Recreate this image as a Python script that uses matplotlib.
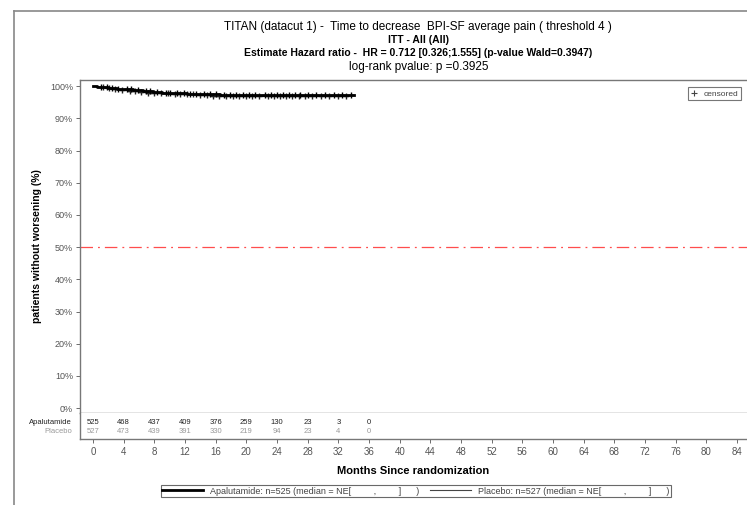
import numpy as np
import matplotlib.pyplot as plt
from matplotlib.lines import Line2D

plt.rcParams['font.family'] = ['Liberation Sans', 'DejaVu Sans']

# Kaplan-Meier steps (months, % without worsening)
apal_times = [0, 0.5, 1.2, 2.0, 3.1, 4.0, 5.2, 6.5, 7.8, 9.0, 10.5, 12.3, 14.0, 16.5, 19.0, 22.0]
apal_surv = [100, 99.8, 99.6, 99.4, 99.2, 99.0, 98.7, 98.4, 98.2, 98.0, 97.8, 97.6, 97.4, 97.3, 97.2, 97.1]
apal_end = 34.0
plac_times = [0, 0.7, 1.5, 2.4, 3.5, 4.6, 5.8, 7.0, 8.4, 10.0, 11.6, 13.5, 15.5, 18.0, 21.0]
plac_surv = [100, 99.8, 99.5, 99.2, 98.9, 98.6, 98.3, 98.0, 97.8, 97.6, 97.4, 97.2, 97.0, 96.9, 96.8]
plac_end = 33.2

apal_cens = [1.0, 1.8, 2.5, 3.3, 4.4, 5.0, 5.8, 6.9, 7.4, 8.3, 9.5, 10.1, 11.0, 11.8, 12.6,
             13.4, 14.5, 15.2, 16.0, 17.1, 17.8, 18.6, 19.5, 20.3, 21.1, 22.4, 23.2, 24.0,
             24.8, 25.5, 26.3, 27.0, 28.0, 29.1, 30.2, 31.4, 32.5, 33.6]
plac_cens = [1.3, 2.1, 2.9, 3.8, 4.8, 5.5, 6.3, 7.2, 8.0, 8.9, 9.8, 10.7, 11.4, 12.2, 13.0,
             13.9, 14.8, 15.7, 16.4, 17.4, 18.3, 19.1, 19.9, 20.7, 21.6, 22.8, 23.6, 24.4,
             25.2, 26.0, 26.8, 27.6, 28.6, 29.7, 30.8, 32.0, 33.0]

# numbers at risk
risk_months = [0, 4, 8, 12, 16, 20, 24, 28, 32, 36]
apal_risk = [525, 468, 437, 409, 376, 259, 130, 23, 3, 0]
plac_risk = [527, 473, 439, 391, 330, 219, 94, 23, 4, 0]

xticks = list(range(0, 85, 4))
yticks = list(range(0, 101, 10))

fig = plt.figure(figsize=(7.47, 5.05), dpi=100)
W, H = 747, 505


def fx(px):
    return px / W


def fy(py):
    return 1 - py / H


ax = fig.add_axes([fx(80), fy(413), 1 - fx(80), fy(80) - fy(413)])
axr = fig.add_axes([fx(80), fy(439), 1 - fx(80), fy(413) - fy(439)])

xmin, xmax = -1.7, 85.3


def km_value(times, surv, t):
    i = np.searchsorted(times, t, side='right') - 1
    return surv[i]


def draw_arm(times, surv, end, cens, lw, color):
    tt = list(times) + [end]
    ss = list(surv) + [surv[-1]]
    ax.step(tt, ss, where='post', color=color, lw=lw)
    cy = [km_value(times, surv, c) for c in cens]
    ax.plot(cens, cy, ls='none', marker='+', ms=5, mew=1.0, color=color)


draw_arm(plac_times, plac_surv, plac_end, plac_cens, 0.9, '#222222')
draw_arm(apal_times, apal_surv, apal_end, apal_cens, 2.0, 'black')

ax.axhline(50, color='#ff4d4d', lw=0.9, ls=(0, (10, 4, 1.5, 4)))

ax.set_xlim(xmin, xmax)
ax.set_ylim(-1.5, 101.9)
ax.set_xticks([])
ax.set_yticks(yticks)
ax.set_yticklabels([f'{v}%' for v in yticks], fontsize=6.5, color='#555555')
ax.tick_params(axis='y', length=3, width=0.6, color='#555555', pad=2)
for s in ax.spines.values():
    s.set_color('#777777')
    s.set_linewidth(1.0)
ax.spines['right'].set_visible(False)
ax.set_ylabel('patients without worsening (%)', fontsize=7.5, fontweight='bold', labelpad=6)

cens_handle = Line2D([], [], ls='none', marker='+', ms=5, mew=0.8, color='#444444')
leg = ax.legend([cens_handle], ['censored'], loc='upper right', bbox_to_anchor=(0.997, 0.99),
                fontsize=6, frameon=True, fancybox=False, edgecolor='#555555',
                handlelength=1.0, handletextpad=0.6, borderpad=0.3, labelcolor='#444444')
leg.get_frame().set_linewidth(0.8)

# risk table
axr.set_xlim(xmin, xmax)
axr.set_ylim(0, 1)
for m, a, p in zip(risk_months, apal_risk, plac_risk):
    axr.text(m, 0.65, str(a), ha='center', va='center', fontsize=5.5, color='#222222')
    axr.text(m, 0.28, str(p), ha='center', va='center', fontsize=5.5, color='#999999')
axr.text(-0.012, 0.65, 'Apalutamide', transform=axr.transAxes, ha='right', va='center',
         fontsize=5.5, color='#222222')
axr.text(-0.012, 0.28, 'Placebo', transform=axr.transAxes, ha='right', va='center',
         fontsize=5.5, color='#999999')
axr.set_yticks([])
axr.set_xticks(xticks)
axr.set_xticklabels([str(v) for v in xticks], fontsize=7, color='#555555')
axr.tick_params(axis='x', length=3, width=0.6, color='#555555', pad=3)
axr.spines['top'].set_visible(False)
axr.spines['right'].set_visible(False)
for s in ['left', 'bottom']:
    axr.spines[s].set_color('#777777')
    axr.spines[s].set_linewidth(1.0)
axr.set_xlabel('Months Since randomization', fontsize=8, fontweight='bold', labelpad=6)

# titles
cx = 0.56
fig.text(cx, fy(27), 'TITAN (datacut 1) -  Time to decrease  BPI-SF average pain ( threshold 4 )',
         ha='center', va='center', fontsize=8.5)
fig.text(cx, fy(40), 'ITT - All (All)', ha='center', va='center', fontsize=7.5, fontweight='bold')
fig.text(cx, fy(53), 'Estimate Hazard ratio -  HR = 0.712 [0.326;1.555] (p-value Wald=0.3947)',
         ha='center', va='center', fontsize=7.5, fontweight='bold')
fig.text(cx, fy(67), 'log-rank pvalue: p =0.3925', ha='center', va='center', fontsize=8.5)

# outer frame
fig.add_artist(Line2D([fx(14), 1], [fy(11), fy(11)], color='#888888', lw=1.2))
fig.add_artist(Line2D([fx(14), fx(14)], [fy(11), 0], color='#888888', lw=1.2))

# bottom legend
h1 = Line2D([], [], color='black', lw=2)
h2 = Line2D([], [], color='#444444', lw=0.8)
blank = '[         ,         ]      )'
lg = fig.legend([h1, h2], ['Apalutamide: n=525 (median = NE' + blank,
                           'Placebo: n=527 (median = NE' + blank],
                loc='center', bbox_to_anchor=(fx(416), fy(491)), ncol=2, fontsize=6.5,
                frameon=True, fancybox=False, edgecolor='#444444', handlelength=4.5,
                columnspacing=1.2, borderpad=0.2, labelcolor='#444444')
lg.get_frame().set_linewidth(0.8)

fig.savefig('out.png', dpi=100)
